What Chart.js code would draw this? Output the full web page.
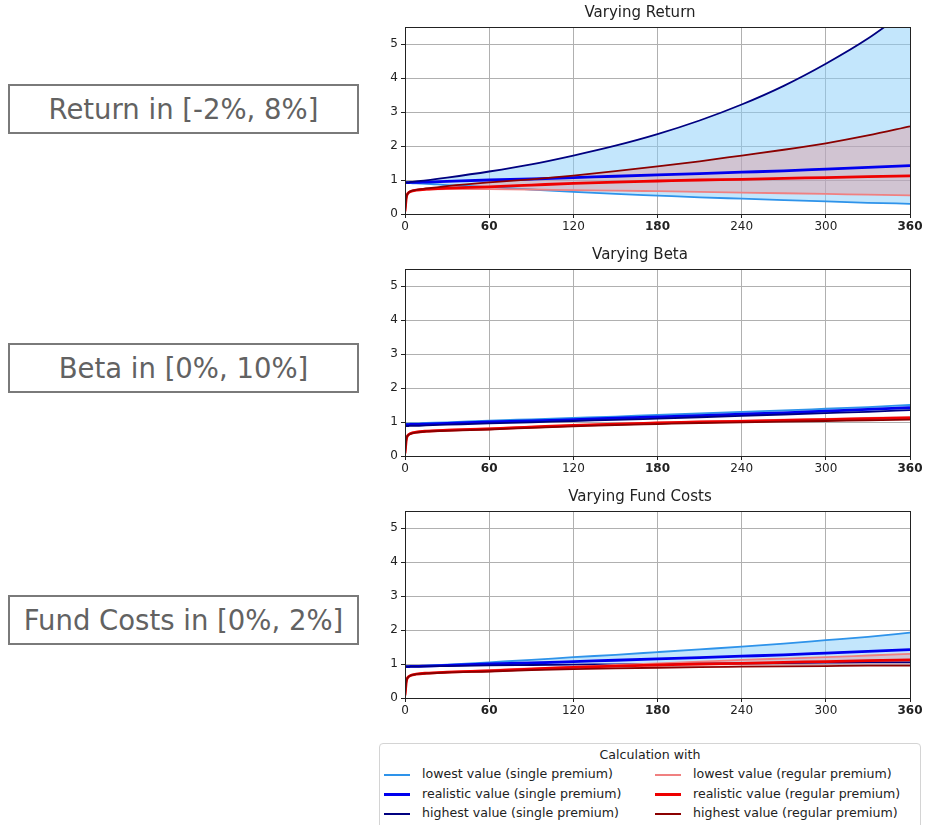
<!DOCTYPE html>
<html>
<head>
<meta charset="utf-8">
<script src="https://cdn.jsdelivr.net/npm/chart.js@4.4.1/dist/chart.umd.min.js"></script>
<style>
  body { margin: 0; background: #fff; font-family: "DejaVu Sans", sans-serif; }
  .page { position: relative; width: 928px; height: 825px; overflow: hidden; }
  .box {
    position: absolute; left: 8px; width: 351px; height: 50px; box-sizing: border-box;
    border: 2px solid #7a7a7a; color: #626262; font-size: 27.5px;
    display: flex; align-items: center; justify-content: center; white-space: nowrap;
  }
  .plot { position: absolute; left: 370px; width: 558px; height: 240px; }
  .legend {
    position: absolute; left: 379px; top: 743px; width: 542px; height: 100px; box-sizing: border-box;
    border: 1px solid #d4d4d4; border-radius: 4px; font-size: 12.6px; color: #222;
  }
  .legend .ttl { position: absolute; top: 3px; left: 0; width: 100%; text-align: center; }
  .legend .item { position: absolute; height: 16px; line-height: 16px; white-space: nowrap; }
  .legend .swatch { display: inline-block; width: 26px; vertical-align: middle; margin-right: 12px; }
</style>
</head>
<body>
<div class="page">
  <div class="box" style="top:84px">Return in [-2%, 8%]</div>
  <div class="box" style="top:343px">Beta in [0%, 10%]</div>
  <div class="box" style="top:595px">Fund Costs in [0%, 2%]</div>

  <div class="plot" style="top:0px"><canvas id="c1" width="558" height="240"></canvas></div>
  <div class="plot" style="top:242px"><canvas id="c2" width="558" height="240"></canvas></div>
  <div class="plot" style="top:484px"><canvas id="c3" width="558" height="240"></canvas></div>

  <div class="legend" id="legend">
    <div class="ttl">Calculation with</div>
  </div>
</div>

<script>
// months since start
const months = [0, 1, 2, 4, 8, 15, 30, 60, 90, 120, 150, 180, 210, 240, 270, 300, 330, 360];
const xTicks = [0, 60, 120, 180, 240, 300, 360];
const boldTicks = [60, 180, 360];
const yTicks = [0, 1, 2, 3, 4, 5];

// Varying Return
const retLowSingle  = [0.92, 0.92, 0.92, 0.91, 0.90, 0.89, 0.85, 0.79, 0.72, 0.65, 0.59, 0.54, 0.49, 0.45, 0.41, 0.37, 0.33, 0.30];
const retRealSingle = [0.92, 0.92, 0.92, 0.93, 0.93, 0.94, 0.96, 1.00, 1.03, 1.07, 1.11, 1.15, 1.19, 1.23, 1.27, 1.32, 1.37, 1.42];
const retHighSingle = [0.92, 0.93, 0.93, 0.94, 0.96, 0.99, 1.07, 1.25, 1.46, 1.72, 2.01, 2.35, 2.75, 3.22, 3.77, 4.42, 5.16, 6.05];
const retLowReg     = [0.08, 0.50, 0.60, 0.66, 0.70, 0.72, 0.73, 0.73, 0.72, 0.70, 0.69, 0.67, 0.65, 0.63, 0.61, 0.59, 0.57, 0.55];
const retRealReg    = [0.08, 0.50, 0.60, 0.66, 0.70, 0.73, 0.76, 0.80, 0.85, 0.90, 0.94, 0.97, 1.00, 1.02, 1.05, 1.07, 1.10, 1.12];
const retHighReg    = [0.08, 0.50, 0.60, 0.67, 0.71, 0.75, 0.82, 0.93, 1.02, 1.13, 1.26, 1.40, 1.55, 1.72, 1.89, 2.08, 2.31, 2.58];

// Varying Beta
const betaLowSingle  = [0.95, 0.95, 0.95, 0.96, 0.96, 0.97, 0.99, 1.04, 1.08, 1.12, 1.16, 1.21, 1.25, 1.30, 1.34, 1.39, 1.44, 1.50];
const betaRealSingle = [0.92, 0.92, 0.92, 0.93, 0.93, 0.94, 0.96, 1.00, 1.03, 1.07, 1.11, 1.15, 1.19, 1.23, 1.27, 1.32, 1.37, 1.42];
const betaHighSingle = [0.88, 0.88, 0.88, 0.89, 0.89, 0.90, 0.92, 0.96, 0.99, 1.03, 1.06, 1.10, 1.14, 1.18, 1.22, 1.26, 1.30, 1.35];
const betaLowReg     = [0.08, 0.50, 0.60, 0.67, 0.71, 0.74, 0.77, 0.81, 0.86, 0.90, 0.94, 0.98, 1.01, 1.04, 1.07, 1.09, 1.12, 1.14];
const betaRealReg    = [0.08, 0.50, 0.60, 0.66, 0.70, 0.73, 0.76, 0.80, 0.85, 0.90, 0.94, 0.97, 1.00, 1.02, 1.05, 1.07, 1.10, 1.12];
const betaHighReg    = [0.08, 0.50, 0.60, 0.65, 0.69, 0.72, 0.74, 0.78, 0.83, 0.87, 0.91, 0.94, 0.97, 0.99, 1.01, 1.03, 1.05, 1.07];

// Varying Fund Costs
const costLowSingle  = [0.93, 0.93, 0.93, 0.94, 0.94, 0.95, 0.98, 1.05, 1.12, 1.20, 1.27, 1.35, 1.43, 1.51, 1.60, 1.70, 1.80, 1.92];
const costRealSingle = [0.92, 0.92, 0.92, 0.93, 0.93, 0.94, 0.96, 1.00, 1.03, 1.07, 1.11, 1.15, 1.19, 1.23, 1.27, 1.32, 1.37, 1.42];
const costHighSingle = [0.92, 0.92, 0.92, 0.92, 0.92, 0.93, 0.94, 0.96, 0.97, 0.98, 0.99, 1.00, 1.01, 1.02, 1.03, 1.04, 1.05, 1.05];
const costLowReg     = [0.08, 0.50, 0.60, 0.66, 0.70, 0.73, 0.76, 0.82, 0.87, 0.92, 0.97, 1.02, 1.07, 1.12, 1.16, 1.20, 1.25, 1.30];
const costRealReg    = [0.08, 0.50, 0.60, 0.66, 0.70, 0.73, 0.76, 0.80, 0.85, 0.90, 0.94, 0.97, 1.00, 1.02, 1.05, 1.07, 1.10, 1.12];
const costHighReg    = [0.08, 0.50, 0.60, 0.66, 0.70, 0.72, 0.75, 0.78, 0.82, 0.85, 0.87, 0.89, 0.91, 0.92, 0.93, 0.94, 0.95, 0.95];

const seriesLabels = [
  'lowest value (single premium)', 'realistic value (single premium)', 'highest value (single premium)',
  'lowest value (regular premium)', 'realistic value (regular premium)', 'highest value (regular premium)'
];
const seriesColors = ['#2e93ea', '#0000ee', '#000080', '#f08080', '#ee0000', '#8b0000'];
const seriesWidths = [1.8, 2.8, 1.8, 1.8, 2.8, 1.8];
const blueFill = 'rgba(135, 206, 250, 0.5)';
const redFill = 'rgba(240, 128, 128, 0.33)';

const FONT = '"DejaVu Sans", sans-serif';

// box around the plot area, like matplotlib
const framePlugin = {
  id: 'frame',
  afterDatasetsDraw(chart) {
    const { ctx, chartArea: a } = chart;
    ctx.save();
    ctx.strokeStyle = '#222';
    ctx.lineWidth = 1;
    ctx.strokeRect(Math.round(a.left) + 0.5, Math.round(a.top) + 0.5,
                   Math.round(a.right - a.left), Math.round(a.bottom - a.top));
    ctx.restore();
  }
};

function pts(values) {
  return months.map((m, i) => ({ x: m, y: values[i] }));
}

function makeChart(id, title, s) {
  // s: [lowSingle, realSingle, highSingle, lowReg, realReg, highReg]
  // Chart.js paints lower indexes on top, so: regular premium above single premium,
  // highest above lowest inside each group
  const order = [5, 4, 3, 2, 1, 0];
  const datasets = order.map(k => ({
    label: seriesLabels[k],
    data: pts(s[k]),
    borderColor: seriesColors[k],
    borderWidth: seriesWidths[k],
    pointRadius: 0,
    cubicInterpolationMode: 'monotone',
    fill: false
  }));
  // highest regular (0) -> lowest regular (2); highest single (3) -> lowest single (5)
  datasets[0].fill = 2;
  datasets[0].backgroundColor = redFill;
  datasets[3].fill = 5;
  datasets[3].backgroundColor = blueFill;

  return new Chart(document.getElementById(id), {
    type: 'line',
    data: { datasets },
    options: {
      responsive: false,
      animation: false,
      layout: { padding: { top: 0, right: 18, bottom: 2, left: 0 } },
      plugins: {
        legend: { display: false },
        tooltip: { enabled: false },
        filler: { drawTime: 'beforeDatasetsDraw' },
        title: {
          display: true,
          text: title,
          color: '#222',
          font: { family: FONT, size: 15, weight: 'normal' },
          padding: { top: 4, bottom: 5 }
        }
      },
      scales: {
        x: {
          type: 'linear',
          min: 0,
          max: 360,
          afterBuildTicks: scale => { scale.ticks = xTicks.map(v => ({ value: v })); },
          afterFit: scale => { scale.height = 24; },
          grid: { color: '#b0b0b0', tickColor: '#222', tickLength: 4 },
          border: { color: '#222', width: 1 },
          ticks: {
            color: '#222',
            padding: 2,
            maxRotation: 0,
            font: c => ({ family: FONT, size: 12, weight: boldTicks.includes(c.tick && c.tick.value) ? 'bold' : 'normal' })
          }
        },
        y: {
          min: 0,
          max: 5.5,
          afterBuildTicks: scale => { scale.ticks = yTicks.map(v => ({ value: v })); },
          afterFit: scale => { scale.width = 35; },
          grid: { color: '#b0b0b0', tickColor: '#222', tickLength: 4 },
          border: { color: '#222', width: 1 },
          ticks: { color: '#222', padding: 3, font: { family: FONT, size: 12 } }
        }
      }
    },
    plugins: [framePlugin]
  });
}

makeChart('c1', 'Varying Return',
  [retLowSingle, retRealSingle, retHighSingle, retLowReg, retRealReg, retHighReg]);
makeChart('c2', 'Varying Beta',
  [betaLowSingle, betaRealSingle, betaHighSingle, betaLowReg, betaRealReg, betaHighReg]);
makeChart('c3', 'Varying Fund Costs',
  [costLowSingle, costRealSingle, costHighSingle, costLowReg, costRealReg, costHighReg]);

// legend: two columns, single premium left, regular premium right
const legend = document.getElementById('legend');
seriesLabels.forEach((lbl, k) => {
  const col = k < 3 ? 0 : 1;
  const row = k % 3;
  const item = document.createElement('div');
  item.className = 'item';
  item.style.left = (col === 0 ? 4 : 275) + 'px';
  item.style.top = (22 + row * 19.5) + 'px';
  const sw = document.createElement('span');
  sw.className = 'swatch';
  sw.style.borderTop = (seriesWidths[k] > 2 ? 3 : 2) + 'px solid ' + seriesColors[k];
  item.appendChild(sw);
  item.appendChild(document.createTextNode(lbl));
  legend.appendChild(item);
});
</script>
</body>
</html>
